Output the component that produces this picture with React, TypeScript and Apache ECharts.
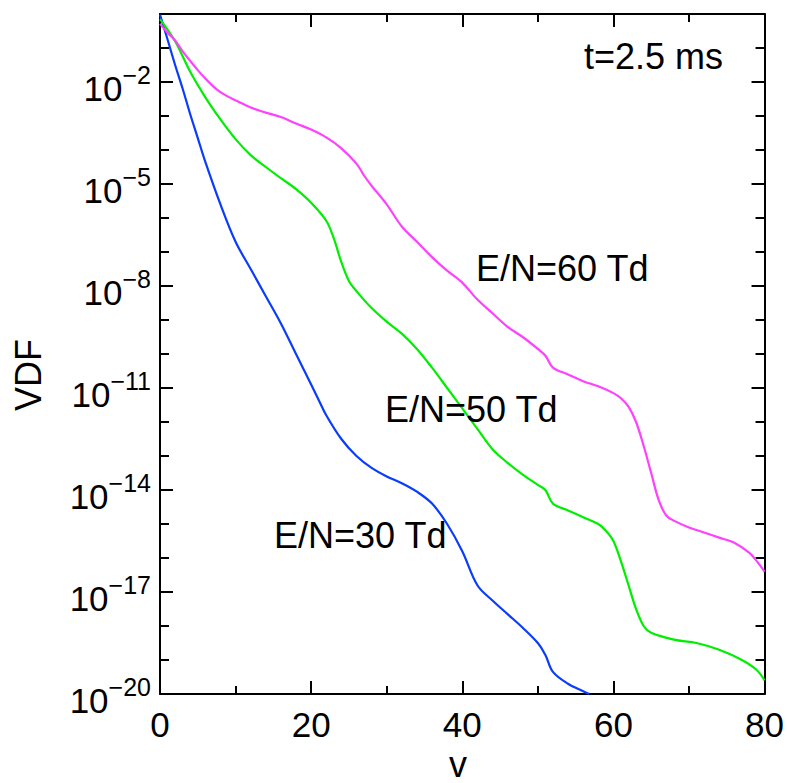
import React, { useEffect, useRef } from 'react';
import * as echarts from 'echarts';

// ---- data (v, and log10 of VDF) ----
const v30 = [0, 1, 2, 3, 4, 5, 6, 8, 10, 12, 14, 16, 18, 20, 21, 22, 24, 26, 28, 30, 32, 34, 36, 38, 40, 42, 44, 46, 48, 50, 51, 52, 54, 56, 56.8];
const vdf30Exp = [-0.02, -0.75, -1.5, -2.2, -2.95, -3.65, -4.35, -5.6, -6.7, -7.5, -8.3, -9.1, -10.0, -10.9, -11.35, -11.8, -12.5, -13.0, -13.35, -13.6, -13.8, -14.05, -14.4, -15.0, -15.8, -16.8, -17.25, -17.65, -18.05, -18.5, -18.85, -19.35, -19.7, -19.92, -20.0];

const v50 = [0, 2, 4, 6, 8, 10, 12, 14, 16, 18, 20, 22, 23, 24, 25, 26, 28, 30, 32, 34, 36, 38, 40, 42, 44, 46, 48, 50, 51, 52, 54, 56, 58, 59, 60, 61, 62, 63, 64, 65, 68, 71, 74, 77, 79, 80];
const vdf50Exp = [-0.15, -0.8, -1.7, -2.45, -3.1, -3.68, -4.15, -4.5, -4.83, -5.15, -5.55, -6.08, -6.6, -7.3, -7.85, -8.15, -8.65, -9.05, -9.4, -9.85, -10.4, -11.0, -11.6, -12.2, -12.8, -13.2, -13.55, -13.85, -14.0, -14.4, -14.6, -14.8, -15.0, -15.2, -15.5, -16.1, -16.8, -17.5, -18.0, -18.2, -18.4, -18.5, -18.7, -19.0, -19.3, -19.6];

const v60 = [0, 1, 2, 3, 4, 5, 6, 7, 8, 9, 10, 12, 14, 16, 18, 20, 22, 24, 26, 27, 28, 30, 32, 34, 36, 38, 40, 42, 44, 46, 48, 50, 51, 52, 54, 56, 58, 60, 61, 62, 63, 64, 65, 66, 67, 68, 70, 72, 74, 76, 78, 79, 80];
const vdf60Exp = [-0.29, -0.55, -0.78, -1.1, -1.38, -1.65, -1.9, -2.12, -2.3, -2.43, -2.54, -2.75, -2.9, -3.03, -3.22, -3.4, -3.63, -3.95, -4.4, -4.75, -5.05, -5.6, -6.25, -6.7, -7.15, -7.55, -7.9, -8.4, -8.8, -9.2, -9.5, -9.85, -10.05, -10.4, -10.6, -10.8, -10.95, -11.15, -11.3, -11.55, -12.0, -12.7, -13.5, -14.3, -14.75, -14.9, -15.1, -15.25, -15.4, -15.55, -15.85, -16.1, -16.4];

const seriesNames = ['E/N=30 Td', 'E/N=50 Td', 'E/N=60 Td'];
const seriesColors = ['#0a3cff', '#00ee00', '#ff40ff'];

const yMajorExp = [-20, -17, -14, -11, -8, -5, -2];
const yMinorExp = [-19, -18, -16, -15, -13, -12, -10, -9, -7, -6, -4, -3, -1];
const xMin = 0;
const xMax = 80;
const xInterval = 20;
const yMinExp = -20;
const yMaxExp = 0;

const FONT = 'Liberation Sans, Arial, Helvetica, sans-serif';

function zip(xs: number[], ys: number[]) {
  return xs.map((x, i) => [x, ys[i]]);
}

export default function App() {
  const ref = useRef<HTMLDivElement>(null);
  useEffect(() => {
    document.body.style.margin = '0';
    if (!ref.current) return;
    const chart = echarts.init(ref.current, undefined, { renderer: 'svg' });
    const lineCol = '#000';
    const tickStyle = { color: lineCol, width: 2 };
    const makeY = (pos: 'left' | 'right', vals: number[], len: number, labels: boolean, line: boolean) => ({
      type: 'value',
      position: pos,
      min: yMinExp,
      max: yMaxExp,
      interval: 1,
      axisLine: { show: line, onZero: false, lineStyle: { color: lineCol, width: 2 } },
      axisTick: { show: true, inside: true, length: len, customValues: vals, lineStyle: tickStyle },
      axisLabel: labels
        ? {
            show: true,
            customValues: yMajorExp,
            margin: 9,
            formatter: (val: number) => `{b|10}{s|\u2212${Math.abs(Math.round(val))}}`,
            rich: {
              b: { fontSize: 35, fontFamily: FONT, color: '#000', lineHeight: 40, padding: [12, 0, 0, 0] },
              s: { fontSize: 25, fontFamily: FONT, color: '#000', verticalAlign: 'top', lineHeight: 26 },
            },
          }
        : { show: false },
      splitLine: { show: false },
    });
    const makeX = (pos: 'bottom' | 'top', labels: boolean) => ({
      type: 'value',
      position: pos,
      min: xMin,
      max: xMax,
      interval: xInterval,
      axisLine: { show: true, onZero: false, lineStyle: { color: lineCol, width: 2 } },
      axisTick: { show: true, inside: true, length: 13, lineStyle: tickStyle },
      minorTick: { show: true, splitNumber: 2, length: 8, lineStyle: tickStyle },
      axisLabel: labels
        ? { show: true, fontSize: 35, fontFamily: FONT, color: '#000', margin: 13 }
        : { show: false },
      splitLine: { show: false },
      minorSplitLine: { show: false },
    });
    const series = [zip(v30, vdf30Exp), zip(v50, vdf50Exp), zip(v60, vdf60Exp)].map((d, i) => ({
      name: seriesNames[i],
      type: 'line',
      data: d,
      showSymbol: false,
      smooth: 0.35,
      clip: true,
      lineStyle: { color: seriesColors[i], width: 2.2 },
      itemStyle: { color: seriesColors[i] },
      z: 1,
    }));
    const txt = (text: string, x: number, y: number, align: string, extra: any = {}) => ({
      type: 'text',
      x,
      y,
      ...extra,
      style: { text, fontSize: 36, fontFamily: FONT, fill: '#000', align, verticalAlign: 'middle' },
      z: 10,
    });
    chart.setOption({
      animation: false,
      backgroundColor: '#fff',
      grid: { left: 160, top: 14, width: 606, height: 680, containLabel: false },
      xAxis: [makeX('bottom', true), makeX('top', false)],
      yAxis: [
        makeY('left', yMinorExp, 9, true, true),
        makeY('left', yMajorExp, 13, false, false),
        makeY('right', yMinorExp, 9, false, true),
        makeY('right', yMajorExp, 13, false, false),
      ],
      series,
      graphic: [
        txt('t=2.5 ms', 723, 56, 'right'),
        txt('E/N=60 Td', 476, 268, 'left'),
        txt('E/N=50 Td', 385, 409, 'left'),
        txt('E/N=30 Td', 274, 535, 'left'),
        txt('v', 458, 764, 'center'),
        txt('VDF', 28, 375, 'center', { rotation: Math.PI / 2 }),
      ],
    });
    return () => chart.dispose();
  }, []);
  return <div ref={ref} style={{ width: 787, height: 783 }} />;
}
